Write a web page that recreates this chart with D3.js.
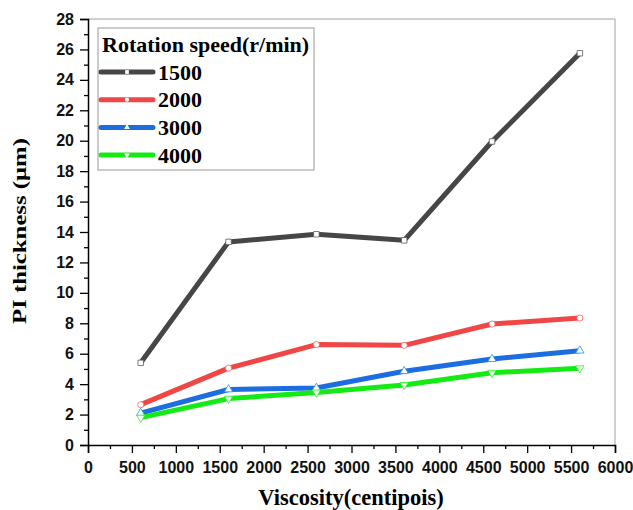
<!DOCTYPE html>
<html>
<head>
<meta charset="utf-8">
<script src="https://cdn.jsdelivr.net/npm/d3@7"></script>
<style>
body { margin: 0; background: #fff; }
svg { display: block; }
</style>
</head>
<body>
<script>
var viscosity = [600, 1600, 2600, 3600, 4600, 5600];
var speeds = ["1500", "2000", "3000", "4000"];
var thick1500 = [5.4, 13.35, 13.85, 13.45, 19.95, 25.75];
var thick2000 = [2.65, 5.05, 6.6, 6.55, 7.95, 8.35];
var thick3000 = [2.1, 3.65, 3.75, 4.85, 5.65, 6.2];
var thick4000 = [1.8, 3.05, 3.45, 3.95, 4.75, 5.05];
var xTicks = d3.range(0, 6001, 500);
var yTicks = d3.range(0, 29, 2);
var colors = ["#464646", "#f04646", "#1c6de0", "#14ea14"];
var markerTypes = [d3.symbolSquare, d3.symbolCircle, d3.symbolTriangle, "down"];

var allSeries = [thick1500, thick2000, thick3000, thick4000];

var width = 633, height = 510;
var margin = {left: 88, right: 18, top: 19, bottom: 65};
var serif = "Liberation Serif, Times New Roman, serif";

var svg = d3.select("body").append("svg").attr("width", width).attr("height", height);

var x = d3.scaleLinear().domain([0, 6000]).range([margin.left, width - margin.right]);
var y = d3.scaleLinear().domain([0, 28]).range([height - margin.bottom, margin.top]);

// top / right frame in light gray
svg.append("path")
  .attr("d", "M" + x(0) + "," + y(28) + "H" + x(6000) + "V" + y(0))
  .attr("fill", "none").attr("stroke", "#a0a0a0").attr("stroke-width", 1);

// x axis + minor ticks
svg.append("g").attr("transform", "translate(0," + y(0) + ")")
  .call(d3.axisBottom(x).tickValues(xTicks).tickSize(8).tickPadding(9).tickFormat(d3.format("d")));
svg.append("g").attr("transform", "translate(0," + y(0) + ")")
  .call(d3.axisBottom(x).tickValues(d3.range(250, 6000, 500)).tickSize(4).tickFormat(""))
  .select(".domain").remove();

// y axis + minor ticks
svg.append("g").attr("transform", "translate(" + x(0) + ",0)")
  .call(d3.axisLeft(y).tickValues(yTicks).tickSize(8).tickPadding(6));
svg.append("g").attr("transform", "translate(" + x(0) + ",0)")
  .call(d3.axisLeft(y).tickValues(d3.range(1, 28, 2)).tickSize(4).tickFormat(""))
  .select(".domain").remove();

svg.selectAll(".tick text").attr("font-family", "Liberation Sans, Arial, sans-serif")
  .attr("font-size", 16).attr("font-weight", "bold").attr("fill", "#111");
svg.selectAll(".domain").attr("stroke", "#000").attr("stroke-width", 1.5);
svg.selectAll(".tick line").attr("stroke", "#000").attr("stroke-width", 1.3);

// axis titles
svg.append("text").attr("x", 351).attr("y", 505).attr("text-anchor", "middle")
  .attr("font-family", serif).attr("font-weight", "bold")
  .attr("font-size", 22.5).text("Viscosity(centipois)");
svg.append("text").attr("transform", "translate(26,231) rotate(-90)").attr("text-anchor", "middle")
  .attr("font-family", serif).attr("font-weight", "bold")
  .attr("font-size", 18.5).attr("textLength", 186).attr("lengthAdjust", "spacingAndGlyphs")
  .text("PI thickness (μm)");

function marker(type, size) {
  if (type === "down") return d3.symbol().type(d3.symbolTriangle).size(size)();
  return d3.symbol().type(type).size(size)();
}

var line = d3.line()
  .x(function(d, i){ return x(viscosity[i]); })
  .y(function(d){ return y(d); });

allSeries.forEach(function(series, k) {
  var g = svg.append("g");
  g.append("path").attr("d", line(series)).attr("fill", "none")
    .attr("stroke", colors[k]).attr("stroke-width", 5).attr("stroke-linejoin", "round");
  g.selectAll("path.pt").data(series).enter().append("path")
    .attr("class", "pt")
    .attr("d", marker(markerTypes[k], 30))
    .attr("transform", function(d, i){
      return "translate(" + x(viscosity[i]) + "," + y(d) + ")" + (markerTypes[k] === "down" ? " rotate(180)" : "");
    })
    .attr("fill", "#fff").attr("stroke", d3.color(colors[k]).brighter(0.8)).attr("stroke-width", 0.8);
});

// legend
var leg = svg.append("g");
leg.append("rect").attr("x", 98).attr("y", 28).attr("width", 216).attr("height", 142)
  .attr("fill", "#fff").attr("stroke", "#999").attr("stroke-width", 1);
leg.append("text").attr("x", 102).attr("y", 52)
  .attr("font-family", serif).attr("font-weight", "bold")
  .attr("font-size", 22).text("Rotation speed(r/min)");
speeds.forEach(function(s, k) {
  var ly = 72 + k * 27.7;
  leg.append("line").attr("x1", 101).attr("x2", 153).attr("y1", ly).attr("y2", ly)
    .attr("stroke", colors[k]).attr("stroke-width", 5).attr("stroke-linecap", "round");
  leg.append("path").attr("d", marker(markerTypes[k], 14))
    .attr("transform", "translate(127," + ly + ")" + (markerTypes[k] === "down" ? " rotate(180)" : ""))
    .attr("fill", "#fff");
  leg.append("text").attr("x", 158).attr("y", ly + 7.5)
    .attr("font-family", serif).attr("font-weight", "bold")
    .attr("font-size", 22).text(s);
});
</script>
</body>
</html>
